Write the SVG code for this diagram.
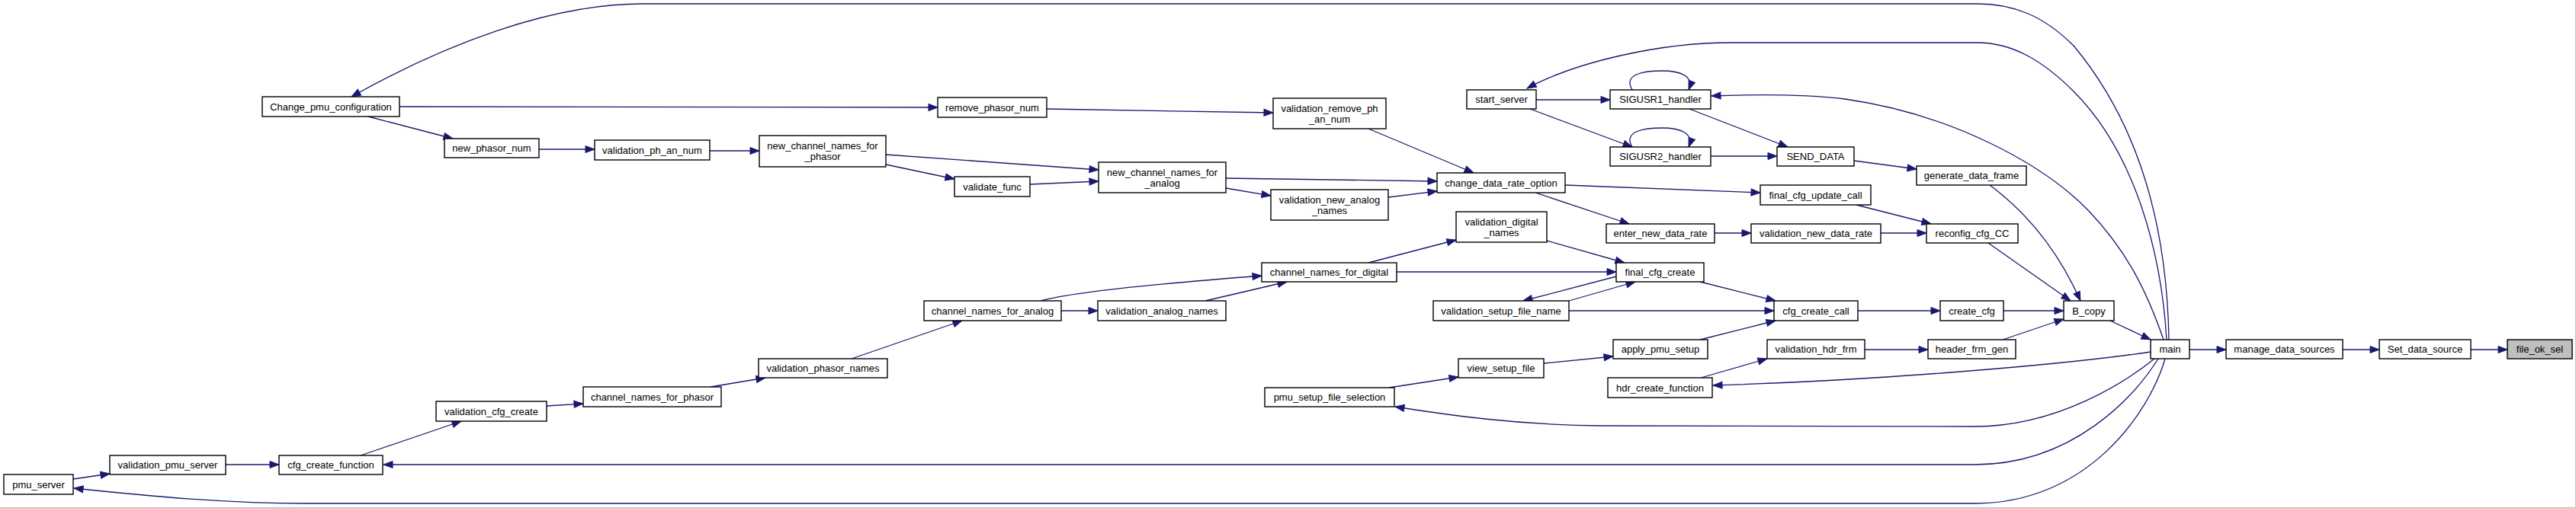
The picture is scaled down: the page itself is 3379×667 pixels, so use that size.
<svg xmlns="http://www.w3.org/2000/svg" width="3379" height="667" viewBox="0 0 3379 667">
<style>
.n rect{fill:#fff;stroke:#000;stroke-width:1.4}
.n text{font-family:"Liberation Sans",Arial,sans-serif;font-size:13px;fill:#000;text-anchor:middle}
.e path{fill:none;stroke:#191970;stroke-width:1.3;marker-end:url(#a)}
.hl rect{fill:#bfbfbf}
</style>
<defs>
<marker id="a" markerUnits="userSpaceOnUse" markerWidth="13" markerHeight="11" refX="12" refY="5" orient="auto" overflow="visible">
<path d="M0,0.5 L12,5 L0,9.5 z" fill="#191970" stroke="#191970" stroke-width="1"/>
</marker>
</defs>
<rect x="0" y="0" width="3379" height="667" fill="#fff"/>
<line x1="3378.5" y1="0" x2="3378.5" y2="667" stroke="#c0c0c0" stroke-width="1"/>
<line x1="0" y1="666.5" x2="3379" y2="666.5" stroke="#c0c0c0" stroke-width="1"/>

<g class="e" id="edges">
<path d="M2845,446 C2843,330 2820,180 2720,60 C2680,20 2640,5 2594,5 L843,5 C720,5 580,60 461,127"/>
<path d="M483,153 L594,182"/>
<path d="M524,140 L1230,141"/>
<path d="M707,196 L780,196"/>
<path d="M931,198 L996,198"/>
<path d="M1162,203 L1441,223"/>
<path d="M1162,216 L1252,235"/>
<path d="M1351,242 L1441,238"/>
<path d="M1373,143 L1670,148"/>
<path d="M1795,169 L1933,227"/>
<path d="M1608,234 L1885,238"/>
<path d="M1608,247 L1667,257"/>
<path d="M1821,259 L1885,251"/>
<path d="M2053,243 L2309,253"/>
<path d="M2014,253 L2137,294"/>
<path d="M2842,446 C2835,330 2800,200 2720,120 C2680,80 2640,56 2594,56 L2270,56 C2180,56 2070,80 2003,116"/>
<path d="M2015,131 L2112,131"/>
<path d="M2007,143 L2141,193"/>
<path d="M2141,118 C2128,96 2160,93 2180,93 C2205,93 2222,100 2215,118"/>
<path d="M2141,193 C2128,171 2160,168 2180,168 C2205,168 2222,175 2215,193"/>
<path d="M2216,143 L2345,193"/>
<path d="M2244,205 L2331,205"/>
<path d="M2432,211 L2514,222"/>
<path d="M2838,446 C2815,380 2790,330 2740,277 C2680,215 2560,150 2420,130 C2360,123 2300,124 2245,126"/>
<path d="M2610,243 C2660,280 2700,330 2729,395"/>
<path d="M2435,269 L2533,294"/>
<path d="M2249,306 L2297,306"/>
<path d="M2467,306 L2527,306"/>
<path d="M2608,319 L2716,395"/>
<path d="M1795,345 L1910,315"/>
<path d="M2029,316 L2131,345"/>
<path d="M1832,357 L2120,357"/>
<path d="M2120,363 L1998,395"/>
<path d="M2058,395 L2145,370"/>
<path d="M2230,370 L2329,395"/>
<path d="M2058,408 L2327,408"/>
<path d="M2230,446 L2329,421"/>
<path d="M2025,477 L2116,468"/>
<path d="M1822,509 L1913,495"/>
<path d="M2437,408 L2545,408"/>
<path d="M2628,408 L2707,408"/>
<path d="M2627,446 L2707,419"/>
<path d="M2446,459 L2529,459"/>
<path d="M2231,496 L2318,471"/>
<path d="M2768,421 L2821,446"/>
<path d="M2872,459 L2920,459"/>
<path d="M3073,459 L3121,459"/>
<path d="M3241,459 L3289,459"/>
<path d="M2821,462 C2700,480 2450,500 2247,506"/>
<path d="M2826,471 C2790,500 2700,560 2590,560 L2100,559 C1990,558 1900,545 1830,534"/>
<path d="M2831,471 C2800,520 2720,610 2590,610 L503,610"/>
<path d="M2840,471 C2820,540 2740,661 2590,661 L400,661 C300,661 200,652 97,641"/>
<path d="M96,629 L144,622"/>
<path d="M296,610 L366,610"/>
<path d="M473,598 L605,553"/>
<path d="M717,533 L765,530"/>
<path d="M932,508 L1004,496"/>
<path d="M1117,471 L1262,421"/>
<path d="M1365,395 Q1420,380 1655,362"/>
<path d="M1392,408 L1440,408"/>
<path d="M1581,395 L1688,370"/>
</g>

<g class="n" id="Change_pmu_configuration"><rect x="344" y="127" width="180" height="26"/><text x="434" y="144.5">Change_pmu_configuration</text></g>
<g class="n" id="new_phasor_num"><rect x="583" y="182" width="124" height="25"/><text x="645" y="199">new_phasor_num</text></g>
<g class="n" id="validation_ph_an_num"><rect x="780" y="184" width="151" height="26"/><text x="855.5" y="201.5">validation_ph_an_num</text></g>
<g class="n" id="new_channel_names_for_phasor"><rect x="996" y="178" width="166" height="41"/><text x="1079" y="195.5">new_channel_names_for</text><text x="1079" y="209.5">_phasor</text></g>
<g class="n" id="remove_phasor_num"><rect x="1230" y="128" width="143" height="26"/><text x="1301.5" y="145.5">remove_phasor_num</text></g>
<g class="n" id="validate_func"><rect x="1252" y="232" width="99" height="26"/><text x="1301.5" y="249.5">validate_func</text></g>
<g class="n" id="validation_remove_ph_an_num"><rect x="1670" y="129" width="148" height="40"/><text x="1744" y="146.5">validation_remove_ph</text><text x="1744" y="160.5">_an_num</text></g>
<g class="n" id="new_channel_names_for_analog"><rect x="1441" y="213" width="167" height="40"/><text x="1524.5" y="230.5">new_channel_names_for</text><text x="1524.5" y="244.5">_analog</text></g>
<g class="n" id="validation_new_analog_names"><rect x="1667" y="249" width="154" height="40"/><text x="1744" y="266.5">validation_new_analog</text><text x="1744" y="280.5">_names</text></g>
<g class="n" id="change_data_rate_option"><rect x="1885" y="227" width="168" height="26"/><text x="1969" y="244.5">change_data_rate_option</text></g>
<g class="n" id="start_server"><rect x="1924" y="118" width="91" height="25"/><text x="1969.5" y="135">start_server</text></g>
<g class="n" id="validation_digital_names"><rect x="1910" y="278" width="119" height="40"/><text x="1969.5" y="295.5">validation_digital</text><text x="1969.5" y="309.5">_names</text></g>
<g class="n" id="channel_names_for_digital"><rect x="1655" y="345" width="177" height="25"/><text x="1743.5" y="362">channel_names_for_digital</text></g>
<g class="n" id="validation_analog_names"><rect x="1440" y="395" width="168" height="26"/><text x="1524" y="412.5">validation_analog_names</text></g>
<g class="n" id="channel_names_for_analog"><rect x="1212" y="395" width="180" height="26"/><text x="1302" y="412.5">channel_names_for_analog</text></g>
<g class="n" id="validation_phasor_names"><rect x="995" y="471" width="169" height="25"/><text x="1079.5" y="488">validation_phasor_names</text></g>
<g class="n" id="channel_names_for_phasor"><rect x="765" y="508" width="181" height="26"/><text x="855.5" y="525.5">channel_names_for_phasor</text></g>
<g class="n" id="validation_cfg_create"><rect x="572" y="527" width="145" height="26"/><text x="644.5" y="544.5">validation_cfg_create</text></g>
<g class="n" id="cfg_create_function"><rect x="366" y="598" width="136" height="25"/><text x="434" y="615">cfg_create_function</text></g>
<g class="n" id="validation_pmu_server"><rect x="144" y="598" width="152" height="25"/><text x="220" y="615">validation_pmu_server</text></g>
<g class="n" id="pmu_server"><rect x="5" y="623" width="91" height="26"/><text x="50.5" y="640.5">pmu_server</text></g>
<g class="n" id="validation_setup_file_name"><rect x="1880" y="395" width="178" height="26"/><text x="1969" y="412.5">validation_setup_file_name</text></g>
<g class="n" id="view_setup_file"><rect x="1913" y="471" width="112" height="25"/><text x="1969" y="488">view_setup_file</text></g>
<g class="n" id="pmu_setup_file_selection"><rect x="1659" y="509" width="170" height="25"/><text x="1744" y="526">pmu_setup_file_selection</text></g>
<g class="n" id="SIGUSR1_handler"><rect x="2112" y="118" width="132" height="25"/><text x="2178" y="135">SIGUSR1_handler</text></g>
<g class="n" id="SIGUSR2_handler"><rect x="2112" y="193" width="132" height="25"/><text x="2178" y="210">SIGUSR2_handler</text></g>
<g class="n" id="SEND_DATA"><rect x="2331" y="193" width="101" height="25"/><text x="2381.5" y="210">SEND_DATA</text></g>
<g class="n" id="generate_data_frame"><rect x="2514" y="218" width="144" height="25"/><text x="2586" y="235">generate_data_frame</text></g>
<g class="n" id="final_cfg_update_call"><rect x="2309" y="243" width="145" height="26"/><text x="2381.5" y="260.5">final_cfg_update_call</text></g>
<g class="n" id="enter_new_data_rate"><rect x="2107" y="294" width="142" height="25"/><text x="2178" y="311">enter_new_data_rate</text></g>
<g class="n" id="validation_new_data_rate"><rect x="2297" y="294" width="170" height="25"/><text x="2382" y="311">validation_new_data_rate</text></g>
<g class="n" id="reconfig_cfg_CC"><rect x="2527" y="294" width="120" height="25"/><text x="2587" y="311">reconfig_cfg_CC</text></g>
<g class="n" id="final_cfg_create"><rect x="2120" y="345" width="115" height="25"/><text x="2177.5" y="362">final_cfg_create</text></g>
<g class="n" id="cfg_create_call"><rect x="2327" y="395" width="110" height="26"/><text x="2382" y="412.5">cfg_create_call</text></g>
<g class="n" id="create_cfg"><rect x="2545" y="395" width="83" height="26"/><text x="2586.5" y="412.5">create_cfg</text></g>
<g class="n" id="B_copy"><rect x="2707" y="395" width="66" height="26"/><text x="2740" y="412.5">B_copy</text></g>
<g class="n" id="apply_pmu_setup"><rect x="2116" y="446" width="124" height="25"/><text x="2178" y="463">apply_pmu_setup</text></g>
<g class="n" id="validation_hdr_frm"><rect x="2318" y="446" width="128" height="25"/><text x="2382" y="463">validation_hdr_frm</text></g>
<g class="n" id="header_frm_gen"><rect x="2529" y="446" width="115" height="25"/><text x="2586.5" y="463">header_frm_gen</text></g>
<g class="n" id="hdr_create_function"><rect x="2109" y="496" width="137" height="26"/><text x="2177.5" y="513.5">hdr_create_function</text></g>
<g class="n" id="main"><rect x="2821" y="446" width="51" height="25"/><text x="2846.5" y="463">main</text></g>
<g class="n" id="manage_data_sources"><rect x="2920" y="446" width="153" height="25"/><text x="2996.5" y="463">manage_data_sources</text></g>
<g class="n" id="Set_data_source"><rect x="3121" y="446" width="120" height="25"/><text x="3181" y="463">Set_data_source</text></g>
<g class="n hl" id="file_ok_sel"><rect x="3289" y="446" width="85" height="25"/><text x="3331.5" y="463">file_ok_sel</text></g>
</svg>
